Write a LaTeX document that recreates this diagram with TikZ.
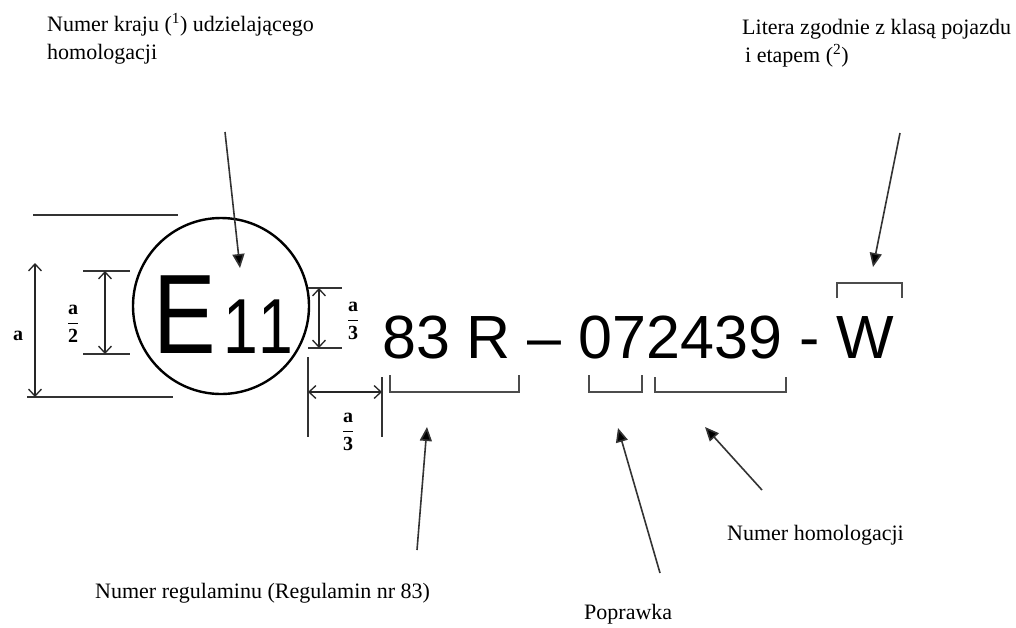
\documentclass[tikz,border=0pt]{standalone}
\usepackage{fontspec}
\setmainfont{Liberation Serif}
\newfontfamily\arialf{Liberation Sans}
\usetikzlibrary{arrows.meta}
\begin{document}
\begin{tikzpicture}[x=1pt,y=-1pt,
  lbl/.style={font=\fontsize{22}{27}\selectfont, inner sep=0pt, anchor=base west},
  ptr/.style={draw=black!80, line width=1.6pt, -{Triangle[width=12pt,length=14pt,fill=black]}},
  dim/.style={draw=black!85, line width=1.3pt, {Straight Barb[length=7pt,width=13pt]}-{Straight Barb[length=7pt,width=13pt]}},
  ext/.style={draw=black!80, line width=1.3pt},
  brk/.style={draw=black!70, line width=1.2pt},
  frac/.style={font=\fontsize{20}{20}\selectfont\bfseries, inner sep=0pt}]
\useasboundingbox (0,0) rectangle (1016,627);
\fill[white] (0,0) rectangle (1016,627);

% labels
\node[lbl] (kraj1) at (47,31) {Numer kraju (\textsuperscript{1}) udzielającego};
\node[lbl] (kraj2) at (47,59) {homologacji};
\node[lbl] (lit1) at (742,34) {Litera zgodnie z klasą pojazdu};
\node[lbl] (lit2) at (745,62) {i etapem (\textsuperscript{2})};
\node[lbl] (reg) at (95,598) {Numer regulaminu (Regulamin nr 83)};
\node[lbl] (hom) at (727,540) {Numer homologacji};
\node[lbl] (pop) at (584,619) {Poprawka};

% circle mark
\node[draw=black, line width=2.4pt, circle, minimum size=176pt, inner sep=0pt] (ring) at (221,306) {};
\node[font=\arialf\fontsize{113}{113}\selectfont, anchor=base west, inner sep=0pt] (E) at (153,353) {\scalebox{0.83}[1]{E}};
\node[font=\arialf\fontsize{78}{78}\selectfont, anchor=base west, inner sep=0pt] (num) at (223,353) {\scalebox{0.8}[1]{1\kern1pt 1}};

% code
\node[font=\arialf\fontsize{61}{61}\selectfont, anchor=base west, inner sep=0pt] (code) at (382,358) {83 R – 072439 - W};

% dimension a
\draw[ext] (33,215) -- (178,215);
\draw[ext] (27,397) -- (173,397);
\coordinate (aT) at (35,263); \coordinate (aB) at (35,397);
\draw[dim] (aT) -- (aB);
\node[frac] (la) at (18,336) {a};

% dimension a/2
\draw[ext] (83,271) -- (130,271);
\draw[ext] (83,354) -- (130,354);
\coordinate (hT) at (105,271); \coordinate (hB) at (105,354);
\draw[dim] (hT) -- (hB);
\node[frac] (lh) at (73,324) {$\displaystyle\frac{\textbf{a}}{\textbf{2}}$};

% dimension a/3 vertical
\draw[ext] (308,288) -- (342,288);
\draw[ext] (308,348) -- (342,348);
\coordinate (vT) at (319,288); \coordinate (vB) at (319,348);
\draw[dim] (vT) -- (vB);
\node[frac] (lv) at (353,321) {$\displaystyle\frac{\textbf{a}}{\textbf{3}}$};

% dimension a/3 horizontal
\draw[ext] (308,357) -- (308,437);
\draw[ext] (382,377) -- (382,437);
\coordinate (wL) at (308,392); \coordinate (wR) at (382,392);
\draw[dim] (wL) -- (wR);
\node[frac] (lw) at (348,432) {$\displaystyle\frac{\textbf{a}}{\textbf{3}}$};

% brackets
\draw[brk] (390,375) -- (390,392) -- (519,392) -- (519,375);
\draw[brk] (589,375) -- (589,392) -- (642,392) -- (642,375);
\draw[brk] (655,377) -- (655,392) -- (786,392) -- (786,377);
\draw[brk] (837,298) -- (837,283) -- (902,283) -- (902,298);

% pointer arrows
\coordinate (s1) at (225,132); \coordinate (t1) at (240,268);
\coordinate (s2) at (900,133); \coordinate (t2) at (873,267);
\coordinate (s3) at (417,550); \coordinate (t3) at (427,427);
\coordinate (s4) at (660,573); \coordinate (t4) at (618,428);
\coordinate (s5) at (762,490); \coordinate (t5) at (705,427);
\draw[ptr] (s1) -- (t1);
\draw[ptr] (s2) -- (t2);
\draw[ptr] (s3) -- (t3);
\draw[ptr] (s4) -- (t4);
\draw[ptr] (s5) -- (t5);
\end{tikzpicture}
\end{document}
